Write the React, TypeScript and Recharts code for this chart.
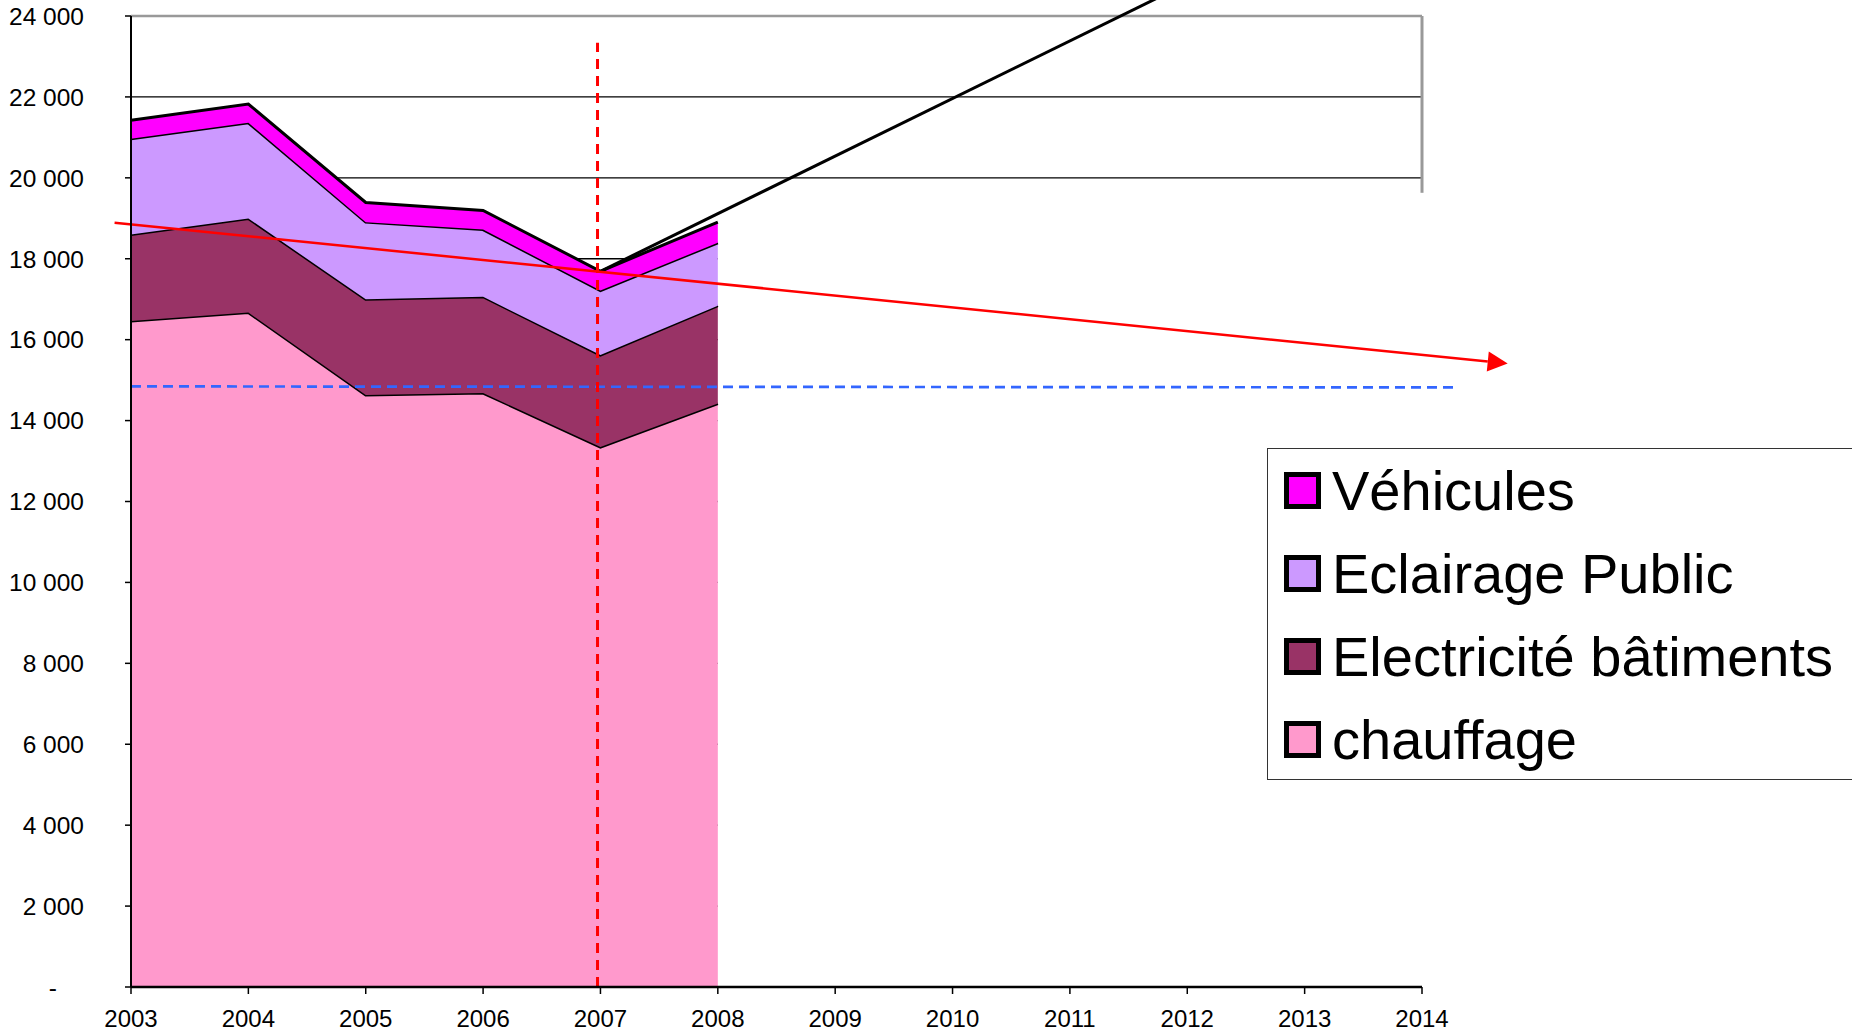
import React from "react";
import {
  AreaChart,
  Area,
  XAxis,
  YAxis,
  CartesianGrid,
  ReferenceLine,
  ReferenceArea,
} from "recharts";

// data years and axis ticks
const years = [2003, 2004, 2005, 2006, 2007, 2008];
const axisYears = [2003, 2004, 2005, 2006, 2007, 2008, 2009, 2010, 2011, 2012, 2013, 2014];
const yTicks = [0, 2000, 4000, 6000, 8000, 10000, 12000, 14000, 16000, 18000, 20000, 22000, 24000];

// stacked consumption, bottom to top
const chauffage = [16460, 16670, 14630, 14680, 13345, 14420];
const electricite = [2140, 2325, 2370, 2380, 2275, 2420];
const eclairage = [2365, 2365, 1905, 1660, 1595, 1555];
const vehicules = [460, 465, 485, 475, 475, 510];

// drawn overlays, in data units
const trendLine = [
  { x: 2002.86, y: 18890 },
  { x: 2014.73, y: 15410 },
];
const refLevel = [
  { x: 2003, y: 14845 },
  { x: 2014.3, y: 14820 },
];
const objectiveLine = [
  { x: 2007, y: 17690 },
  { x: 2012.5, y: 25520 },
];
const marker2007 = [
  { x: 2006.975, y: 0 },
  { x: 2006.975, y: 23340 },
];
const frameRight = [
  { x: 2014, y: 19630 },
  { x: 2014, y: 24000 },
];
const coverTop = 19630;

const SERIES = [
  { key: "chauffage", name: "chauffage", color: "#FF99CC" },
  { key: "electricite", name: "Electricité bâtiments", color: "#993366" },
  { key: "eclairage", name: "Eclairage Public", color: "#CC99FF" },
  { key: "vehicules", name: "Véhicules", color: "#FF00FF" },
];

const data = years.map((year, i) => ({
  year,
  chauffage: chauffage[i],
  electricite: electricite[i],
  eclairage: eclairage[i],
  vehicules: vehicules[i],
}));

const FONT = "'Liberation Sans', Arial, sans-serif";

function fmt(v: number) {
  return String(v).replace(/\B(?=(\d{3})+(?!\d))/g, " ");
}

function YTick(props: any) {
  const { x, y, payload } = props;
  const v = payload.value;
  return (
    <text
      x={v === 0 ? x - 26 : x + 1}
      y={y}
      dy="0.36em"
      textAnchor="end"
      fontSize={24.5}
      fill="#000"
    >
      {v === 0 ? "-" : fmt(v)}
    </text>
  );
}

function XTick(props: any) {
  const { x, y, payload } = props;
  return (
    <text x={x} y={y} dy={31} textAnchor="middle" fontSize={24} fill="#000">
      {payload.value}
    </text>
  );
}

function ArrowShape(p: any) {
  const { x1, y1, x2, y2 } = p;
  const dx = x2 - x1;
  const dy = y2 - y1;
  const len = Math.hypot(dx, dy) || 1;
  const ux = dx / len;
  const uy = dy / len;
  const bx = x2 - ux * 20;
  const by = y2 - uy * 20;
  const pts = `${x2},${y2} ${bx - uy * 10},${by + ux * 10} ${bx + uy * 10},${by - ux * 10}`;
  return (
    <g>
      <line x1={x1} y1={y1} x2={bx} y2={by} stroke="#FF0000" strokeWidth={2.5} />
      <polygon points={pts} fill="#FF0000" />
    </g>
  );
}

function LegendBox() {
  return (
    <div
      style={{
        position: "absolute",
        left: 1267,
        top: 448,
        width: 700,
        height: 332,
        border: "1.5px solid #333",
        background: "#fff",
        boxSizing: "border-box",
        paddingTop: 23,
      }}
    >
      {[...SERIES].reverse().map((s) => (
        <div
          key={s.key}
          style={{
            display: "flex",
            alignItems: "flex-start",
            height: 37,
            marginBottom: 46,
            marginLeft: 16,
          }}
        >
          <span
            style={{
              width: 37,
              height: 37,
              boxSizing: "border-box",
              border: "5px solid #000",
              background: s.color,
              flex: "none",
            }}
          />
          <span
            style={{
              fontSize: 56,
              lineHeight: "37px",
              marginLeft: 11,
              whiteSpace: "nowrap",
              color: "#000",
            }}
          >
            {s.name}
          </span>
        </div>
      ))}
    </div>
  );
}

export default function App() {
  return (
    <div
      style={{
        position: "absolute",
        left: 0,
        top: 0,
        width: 1852,
        height: 1033,
        overflow: "hidden",
        background: "#fff",
        fontFamily: FONT,
      }}
    >
      <AreaChart
        width={1852}
        height={1033}
        data={data}
        margin={{ top: 16, right: 430, bottom: 0, left: 0 }}
      >
        <CartesianGrid vertical={false} stroke="#000" strokeWidth={1.3} />
        <ReferenceArea
          x1={2008}
          x2={2014}
          y1={60}
          y2={coverTop}
          fill="#fff"
          fillOpacity={1}
          stroke="none"
          ifOverflow="visible"
        />
        {SERIES.map((s) => (
          <Area
            key={s.key}
            type="linear"
            dataKey={s.key}
            name={s.name}
            stackId="1"
            stroke="#000"
            strokeWidth={3}
            fill={s.color}
            fillOpacity={1}
            dot={false}
            activeDot={false}
            isAnimationActive={false}
          />
        ))}
        <XAxis
          dataKey="year"
          type="number"
          domain={[2003, 2014]}
          ticks={axisYears}
          interval={0}
          height={46}
          tickSize={7}
          axisLine={{ stroke: "#000", strokeWidth: 2.5 }}
          tickLine={{ stroke: "#000", strokeWidth: 1.5 }}
          tick={<XTick />}
        />
        <YAxis
          type="number"
          domain={[0, 24000]}
          ticks={yTicks}
          interval={0}
          width={131}
          tickSize={6}
          tickMargin={42}
          axisLine={{ stroke: "#000", strokeWidth: 2 }}
          tickLine={{ stroke: "#000", strokeWidth: 1.5 }}
          tick={<YTick />}
        />
        <ReferenceLine y={24000} stroke="#999" strokeWidth={2.5} ifOverflow="visible" />
        <ReferenceLine segment={frameRight} stroke="#999" strokeWidth={3} ifOverflow="visible" />
        <ReferenceLine
          segment={refLevel}
          stroke="#3366FF"
          strokeWidth={2.7}
          strokeDasharray="10 6"
          ifOverflow="visible"
        />
        <ReferenceLine
          segment={marker2007}
          stroke="#FF0000"
          strokeWidth={3}
          strokeDasharray="10 7"
          ifOverflow="visible"
        />
        <ReferenceLine segment={objectiveLine} stroke="#000" strokeWidth={3} ifOverflow="visible" />
        <ReferenceLine segment={trendLine} shape={ArrowShape} ifOverflow="visible" />
      </AreaChart>
      <LegendBox />
    </div>
  );
}
